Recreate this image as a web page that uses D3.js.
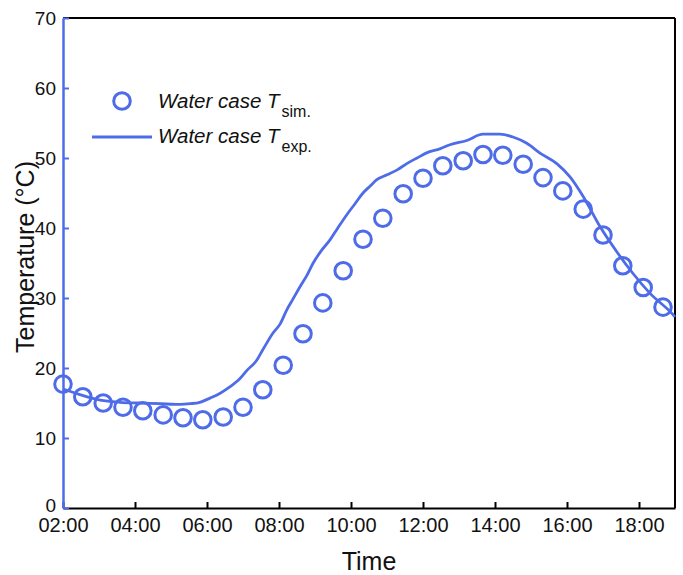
<!DOCTYPE html>
<html>
<head>
<meta charset="utf-8">
<script src="https://cdn.jsdelivr.net/npm/d3@7"></script>
<style>
  body { margin: 0; background: #fff; }
  text { font-family: "Liberation Sans", Arial, sans-serif; }
</style>
</head>
<body>
<div id="chart"></div>
<script>
// simulated temperature (circles)
const simTimes = ["02:00","02:33","03:07","03:40","04:13","04:47","05:20","05:53","06:27","07:00",
  "07:33","08:07","08:40","09:13","09:47","10:20","10:53","11:27","12:00","12:33",
  "13:07","13:40","14:13","14:47","15:20","15:53","16:27","17:00","17:33","18:07","18:40"];
const simValues = [17.7, 15.9, 15.0, 14.4, 13.9, 13.3, 12.9, 12.6, 13.0, 14.4,
  16.9, 20.4, 24.9, 29.3, 33.9, 38.4, 41.4, 44.9, 47.1, 48.9,
  49.6, 50.5, 50.4, 49.1, 47.2, 45.3, 42.7, 39.0, 34.6, 31.5, 28.7];

// measured temperature (line)
const expTimes = ["02:00","02:28","03:02","03:35","04:08","04:42","05:15","05:32","05:48","06:05",
  "06:22","06:38","06:55","07:07","07:22","07:33","07:50","08:02","08:13","08:23",
  "08:35","08:47","08:57","09:10","09:25","09:38","09:53","10:07","10:20","10:32",
  "10:43","11:00","11:17","11:33","11:50","12:08","12:28","12:45","13:13","13:40",
  "14:08","14:30","14:53","15:15","15:43","16:05","16:27","16:55","17:23","17:50",
  "18:18","18:57","19:00"];
const expValues = [17.0, 16.2, 15.4, 15.1, 15.0, 14.9, 14.8, 14.9, 15.1, 15.7,
  16.4, 17.3, 18.5, 19.7, 21.0, 22.6, 25.0, 26.3, 28.3, 29.8,
  31.6, 33.3, 35.0, 36.7, 38.3, 40.0, 41.9, 43.5, 45.0, 46.0,
  46.9, 47.6, 48.3, 49.2, 50.0, 50.8, 51.3, 51.9, 52.5, 53.4,
  53.4, 53.0, 52.1, 50.7, 49.2, 47.3, 44.5, 40.2, 36.6, 33.5,
  30.7, 27.6, 27.3];

const xTicks = ["02:00","04:00","06:00","08:00","10:00","12:00","14:00","16:00","18:00"];
const yTicks = [0, 10, 20, 30, 40, 50, 60, 70];

const blue = "#4f6ce8";
const width = 683, height = 575;
const margin = { top: 18, right: 8, bottom: 67, left: 63 };

const parse = d3.timeParse("%H:%M");
const fmt = d3.timeFormat("%H:%M");

const svg = d3.select("#chart").append("svg")
  .attr("width", width)
  .attr("height", height);

const x = d3.scaleTime()
  .domain([parse("02:00"), parse("19:00")])
  .range([margin.left, width - margin.right]);
const y = d3.scaleLinear()
  .domain([0, 70])
  .range([height - margin.bottom, margin.top]);

// frame: top and right in black
svg.append("line")
  .attr("x1", x.range()[0]).attr("x2", x.range()[1])
  .attr("y1", y(70)).attr("y2", y(70))
  .attr("stroke", "#000").attr("stroke-width", 2);
svg.append("line")
  .attr("x1", x.range()[1]).attr("x2", x.range()[1])
  .attr("y1", y(70)).attr("y2", y(0))
  .attr("stroke", "#000").attr("stroke-width", 2);

// bottom axis
const xAxis = svg.append("g")
  .attr("transform", `translate(0,${y(0)})`)
  .call(d3.axisBottom(x)
    .tickValues(xTicks.map(parse))
    .tickFormat(fmt)
    .tickSizeInner(-6).tickSizeOuter(0).tickPadding(10));
xAxis.select(".domain").attr("stroke", "#000").attr("stroke-width", 2);
xAxis.selectAll(".tick line").attr("stroke", "#000").attr("stroke-width", 2);
xAxis.selectAll(".tick text").attr("font-size", 20).attr("fill", "#111");

// left axis (blue)
const yAxis = svg.append("g")
  .attr("transform", `translate(${margin.left},0)`)
  .call(d3.axisLeft(y)
    .tickValues(yTicks)
    .tickSizeInner(-6).tickSizeOuter(0).tickPadding(7));
yAxis.select(".domain").attr("stroke", blue).attr("stroke-width", 2.5);
yAxis.selectAll(".tick line").attr("stroke", blue).attr("stroke-width", 2);
yAxis.selectAll(".tick text").attr("font-size", 19).attr("fill", "#111");
// lift the "0" a little so it clears the 02:00 label
yAxis.selectAll(".tick text").filter(d => d === 0).attr("dy", "0.2em");

// axis titles
svg.append("text")
  .attr("x", 369).attr("y", 570)
  .attr("text-anchor", "middle")
  .attr("font-size", 25).attr("fill", "#111")
  .text("Time");
svg.append("text")
  .attr("transform", "translate(34,257) rotate(-90)")
  .attr("text-anchor", "middle")
  .attr("font-size", 25).attr("fill", "#111")
  .text("Temperature (°C)");

// measured line
const line = d3.line()
  .x((d, i) => x(parse(expTimes[i])))
  .y(d => y(d))
  .curve(d3.curveMonotoneX);
svg.append("path")
  .datum(expValues)
  .attr("d", line)
  .attr("fill", "none")
  .attr("stroke", blue)
  .attr("stroke-width", 2.8);

// simulated circles
svg.append("g").selectAll("circle")
  .data(simValues)
  .join("circle")
  .attr("cx", (d, i) => x(parse(simTimes[i])))
  .attr("cy", d => y(d))
  .attr("r", 8.3)
  .attr("fill", "none")
  .attr("stroke", blue)
  .attr("stroke-width", 3);

// legend
const legend = svg.append("g");
legend.append("circle")
  .attr("cx", 122).attr("cy", 101).attr("r", 8.3)
  .attr("fill", "none").attr("stroke", blue).attr("stroke-width", 3);
legend.append("line")
  .attr("x1", 92).attr("x2", 152).attr("y1", 137).attr("y2", 137)
  .attr("stroke", blue).attr("stroke-width", 2.8);

const legendLabels = [["sim.", 108], ["exp.", 143]];
legendLabels.forEach(([sub, yy]) => {
  const t = legend.append("text")
    .attr("x", 158).attr("y", yy)
    .attr("font-size", 20.5).attr("fill", "#111");
  t.append("tspan").attr("font-style", "italic").text("Water case T");
  t.append("tspan").attr("font-size", 16).attr("dx", 2).attr("dy", 8.5).text(sub);
});
</script>
</body>
</html>
